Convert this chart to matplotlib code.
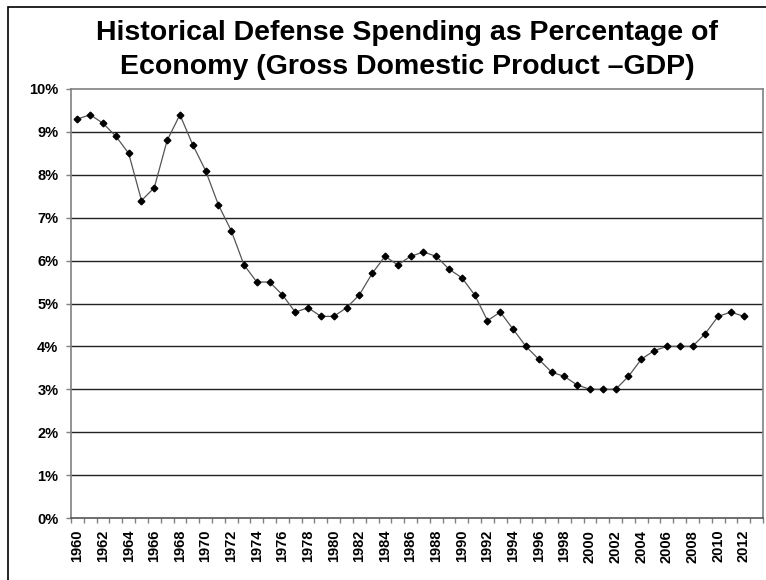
import matplotlib
matplotlib.use("Agg")
import matplotlib.pyplot as plt
from matplotlib.patches import Rectangle
import numpy as np

years = list(range(1960, 2013))
values = [9.3, 9.4, 9.2, 8.9, 8.5, 7.4, 7.7, 8.8, 9.4, 8.7,
          8.1, 7.3, 6.7, 5.9, 5.5, 5.5, 5.2, 4.8, 4.9, 4.7,
          4.7, 4.9, 5.2, 5.7, 6.1, 5.9, 6.1, 6.2, 6.1, 5.8,
          5.6, 5.2, 4.6, 4.8, 4.4, 4.0, 3.7, 3.4, 3.3, 3.1,
          3.0, 3.0, 3.0, 3.3, 3.7, 3.9, 4.0, 4.0, 4.0, 4.3,
          4.7, 4.8, 4.7]
n_categories = 54  # axis includes an empty 2013 slot
yticks = list(range(0, 11))
title = "Historical Defense Spending as Percentage of\nEconomy (Gross Domestic Product \u2013GDP)"

plt.rcParams['font.family'] = ['Liberation Sans', 'DejaVu Sans']

W, H = 766, 580
fig = plt.figure(figsize=(W / 100, H / 100), dpi=100)
fig.patch.set_facecolor('white')

# outer chart border
fig.patches.append(Rectangle((8 / W, -0.05), 1.2, 1 - 7 / H + 0.05, transform=fig.transFigure,
                             fill=False, edgecolor='black', linewidth=1.2))

ax = fig.add_axes([71 / W, 1 - 518 / H, (763 - 71) / W, (518 - 89) / H])
x = np.arange(len(years))
ax.plot(x, values, color='#555555', linewidth=0.9, marker='D', markersize=3.4,
        markerfacecolor='black', markeredgecolor='black', zorder=3)

ax.set_xlim(-0.5, n_categories - 0.5)
ax.set_ylim(0, 10)

for v in yticks[1:-1]:
    ax.axhline(v, color='#222222', linewidth=1.0, zorder=1)

ax.set_yticks(yticks)
ax.set_yticklabels([f"{v}%" for v in yticks], fontsize=10.5, fontweight='bold')
ax.tick_params(axis='y', direction='out', length=3.6, width=1, color='#808080', pad=5.5)

ax.set_xticks(np.arange(n_categories + 1) - 0.5)
ax.set_xticklabels([])
ax.tick_params(axis='x', which='major', direction='out', length=3.6, width=1, color='#808080')
ax.set_xticks(x[::2], minor=True)
ax.set_xticklabels([str(y) for y in years[::2]], minor=True, rotation=90,
                   fontsize=10.5, fontweight='bold')
ax.tick_params(axis='x', which='minor', length=0, pad=8.5)

for side in ['left', 'top', 'right']:
    ax.spines[side].set_color('#808080')
    ax.spines[side].set_linewidth(1.2)
ax.spines['bottom'].set_color('#555555')
ax.spines['bottom'].set_linewidth(1.2)

fig.text(0.5 * (97 + 718) / W, 1 - 50 / H, title, ha='center', va='center',
         fontsize=20.5, fontweight='bold', linespacing=1.4)

fig.savefig("out.png", dpi=100, facecolor='white')
